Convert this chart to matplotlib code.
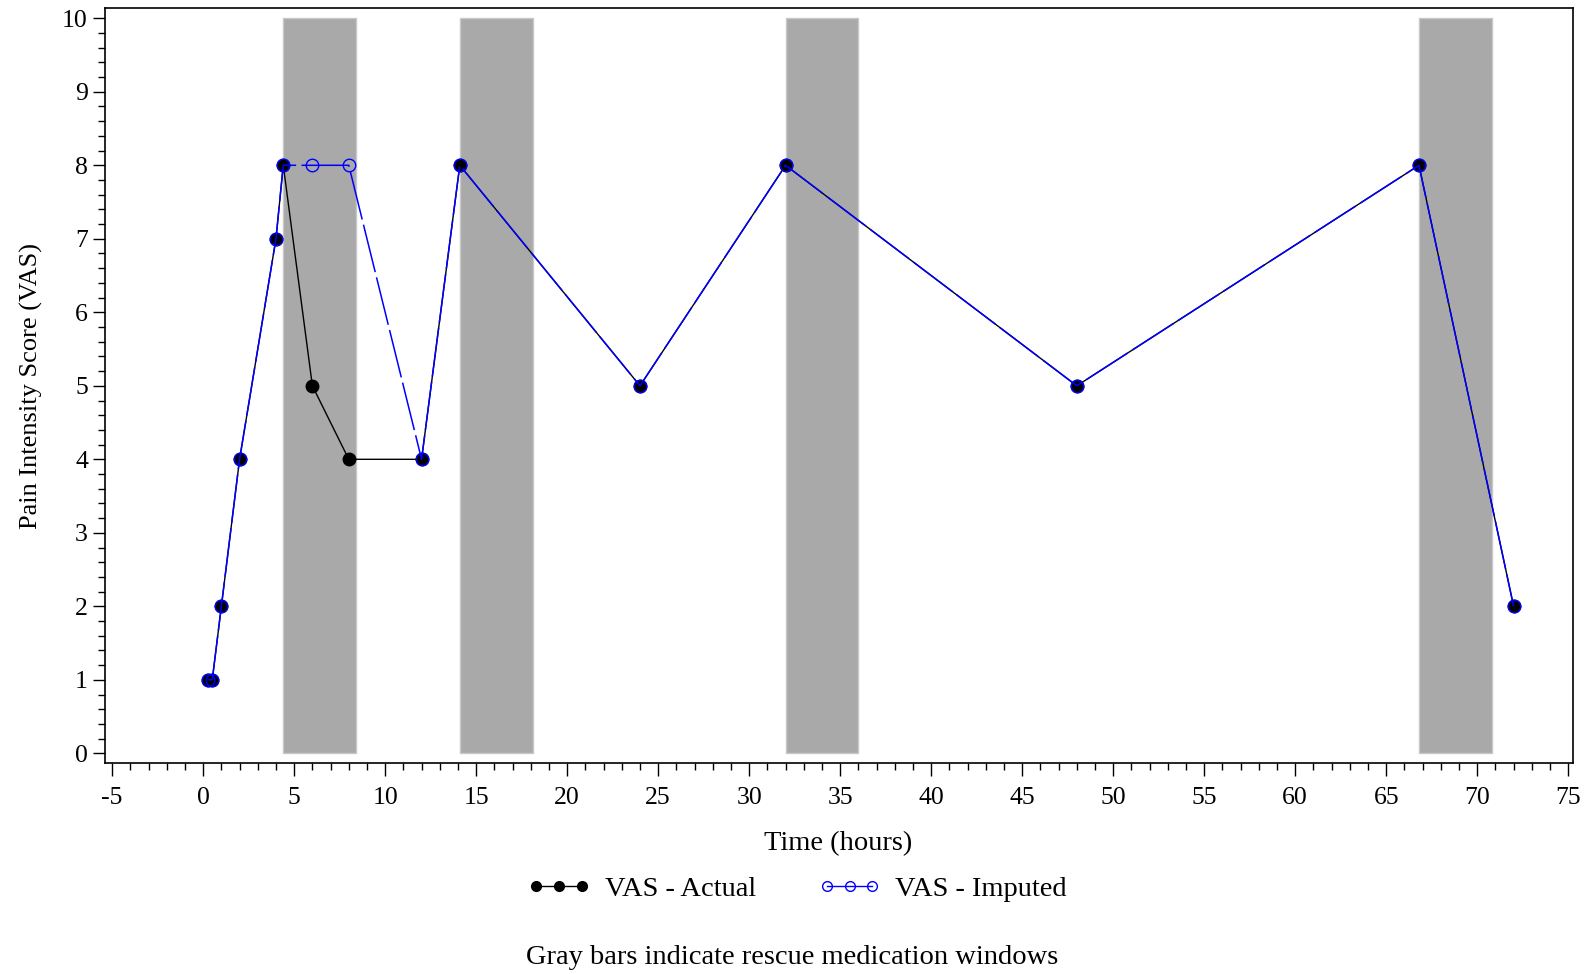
import numpy as np
import matplotlib
matplotlib.use('Agg')
import matplotlib.pyplot as plt
from matplotlib.ticker import MultipleLocator
from matplotlib.lines import Line2D

plt.rcParams['font.family'] = ['Liberation Serif', 'DejaVu Serif']

# Data
time_hours = [0.25, 0.5, 1, 2, 4, 4.4, 6, 8, 12, 14.1, 24, 32, 48, 66.8, 72]
vas_actual = [1, 1, 2, 4, 7, 8, 5, 4, 4, 8, 5, 8, 5, 8, 2]
vas_imputed = [1, 1, 2, 4, 7, 8, 8, 8, 4, 8, 5, 8, 5, 8, 2]
rescue_start = [4.4, 14.1, 32.0, 66.8]
rescue_end = [8.4, 18.1, 36.0, 70.8]

fig = plt.figure(figsize=(15.85, 9.74), dpi=100)
ax = fig.add_axes([0.0664, 0.2163, 0.926, 0.7755])

# Rescue medication windows
for s, e in zip(rescue_start, rescue_end):
    ax.fill_between([s, e], 0, 10, color='#a9a9a9', edgecolor='#c8c8c8', linewidth=1, zorder=1)

# Actual and imputed series
ax.plot(time_hours, vas_actual, color='black', linewidth=1, marker='o', markersize=9,
        markerfacecolor='black', markeredgecolor='black', zorder=3)
ax.plot(time_hours, vas_imputed, color='#0000ff', linewidth=1.1, linestyle=(0, (32, 3.5)),
        marker='o', markersize=9, markerfacecolor='none', markeredgecolor='#0000ff',
        markeredgewidth=1, zorder=4)

ax.set_xlim(-5.38, 75.26)
ax.set_ylim(-0.136, 10.14)
ax.xaxis.set_major_locator(MultipleLocator(5))
ax.xaxis.set_minor_locator(MultipleLocator(1))
ax.yaxis.set_major_locator(MultipleLocator(1))
ax.yaxis.set_minor_locator(MultipleLocator(0.2))
ax.tick_params(which='major', length=9, width=1, labelsize=18.5, direction='out')
ax.tick_params(which='minor', length=5, width=1, direction='out')
ax.tick_params(axis='x', pad=8)
ax.set_xticklabels([str(int(v)) for v in ax.get_xticks()])

for sp in ax.spines.values():
    sp.set_linewidth(1.2)

ax.set_ylabel('Pain Intensity Score (VAS)', fontsize=19, labelpad=14)
fig.text(0.529, 0.134, 'Time (hours)', ha='center', va='center', fontsize=20.5)

handles = [
    Line2D([], [], color='black', linewidth=1, marker='o', markersize=7,
           markerfacecolor='black', markeredgecolor='black'),
    Line2D([], [], color='#0000ff', linewidth=1, marker='o', markersize=7,
           markerfacecolor='none', markeredgecolor='#0000ff'),
]
fig.legend(handles, ['VAS - Actual', 'VAS - Imputed'], loc='center',
           bbox_to_anchor=(0.503, 0.087), ncol=2, frameon=False,
           fontsize=20.5, numpoints=3, handlelength=2.2, columnspacing=2.2, handletextpad=0.5)

fig.text(0.4998, 0.0165, 'Gray bars indicate rescue medication windows', ha='center',
         va='center', fontsize=20.5)

fig.savefig('out.png', dpi=100)
